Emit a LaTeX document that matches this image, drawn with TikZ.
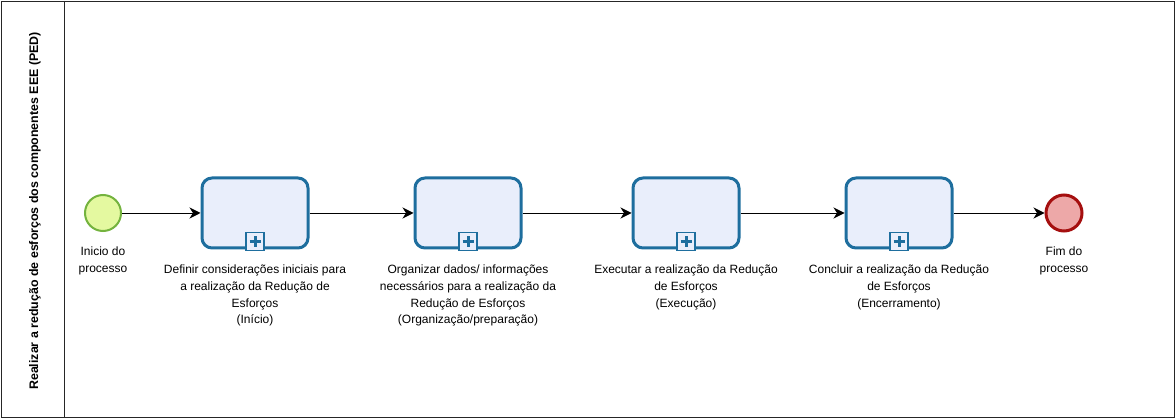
\documentclass[tikz,border=0pt]{standalone}
\usepackage{fontspec}
\setmainfont{Liberation Sans}
\usetikzlibrary{arrows.meta}
\definecolor{taskblue}{HTML}{1E6E9E}
\definecolor{taskfill}{HTML}{E9EEFB}
\definecolor{startfill}{HTML}{E4F9A0}
\definecolor{startline}{HTML}{74B33E}
\definecolor{endfill}{HTML}{EDA8A8}
\definecolor{endline}{HTML}{A50F0F}
\tikzset{
  taskbox/.style={draw=taskblue, line width=3pt, fill=taskfill, rounded corners=10pt,
    minimum width=106pt, minimum height=70pt, inner sep=0pt},
  startev/.style={circle, draw=startline, line width=2pt, fill=startfill, minimum size=36pt, inner sep=0pt},
  endev/.style={circle, draw=endline, line width=3pt, fill=endfill, minimum size=36pt, inner sep=0pt},
  lbl/.style={align=center, font=\fontsize{12}{16.7}\selectfont, inner sep=0pt, anchor=north},
  flow/.style={line width=0.9pt, -{Stealth[length=11pt, width=11pt, inset=3.5pt]}},
  marker/.style={draw=taskblue, line width=1.4pt, fill=taskfill, minimum size=18pt, inner sep=0pt}
}
\begin{document}
\begin{tikzpicture}[x=1pt, y=-1pt]
\useasboundingbox (0,0) rectangle (1176,419);
\draw[line width=0.8pt, draw=black!85] (1,1) rectangle (1174,417);
\draw[line width=0.8pt, draw=black!85] (64.5,1) -- (64.5,417);
\node[rotate=90, font=\fontsize{12.4}{14}\selectfont\bfseries, inner sep=0pt] (lane) at (35,211) {Realizar a redução de esforços dos componentes EEE (PED)};

\node[startev] (s) at (103,213) {};
\node[taskbox] (t1) at (255,213) {};
\node[taskbox] (t2) at (468,213) {};
\node[taskbox] (t3) at (686,213) {};
\node[taskbox] (t4) at (899,213) {};
\node[endev] (e) at (1064,213) {};

\foreach \t in {t1,t2,t3,t4}{
  \node[marker, anchor=south] (\t m) at ([yshift=-1.5pt]\t.south) {};
  \draw[taskblue, line width=3pt] ([xshift=-5.5pt]\t m.center) -- ([xshift=5.5pt]\t m.center);
  \draw[taskblue, line width=3pt] ([yshift=-5.5pt]\t m.center) -- ([yshift=5.5pt]\t m.center);
}

\draw[flow] (s) -- (t1);
\draw[flow] (t1) -- (t2);
\draw[flow] (t2) -- (t3);
\draw[flow] (t3) -- (t4);
\draw[flow] (t4) -- (e);

\node[lbl] (ls) at (103,247) {Inicio do\\processo};
\node[lbl] (l1) at (255,265) {Definir considerações iniciais para\\a realização da Redução de\\Esforços\\(Início)};
\node[lbl] (l2) at (468,265) {Organizar dados/ informações\\necessários para a realização da\\Redução de Esforços\\(Organização/preparação)};
\node[lbl] (l3) at (686,265) {Executar a realização da Redução\\de Esforços\\(Execução)};
\node[lbl] (l4) at (899,265) {Concluir a realização da Redução\\de Esforços\\(Encerramento)};
\node[lbl] (le) at (1064,247) {Fim do\\processo};
\end{tikzpicture}
\end{document}
